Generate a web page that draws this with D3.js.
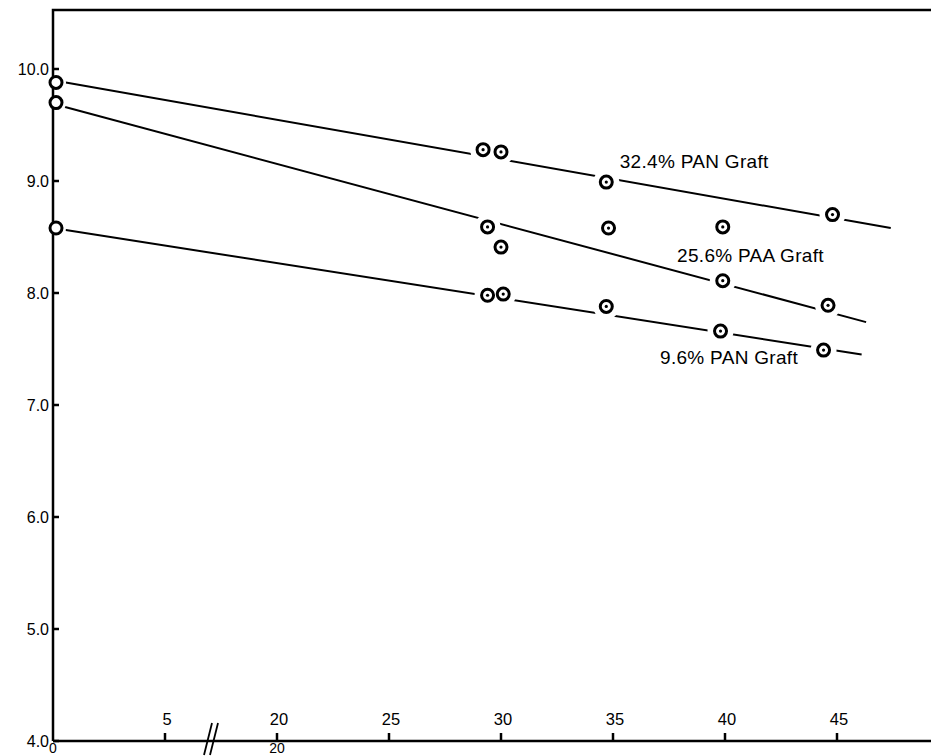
<!DOCTYPE html>
<html>
<head>
<meta charset="utf-8">
<script src="https://cdn.jsdelivr.net/npm/d3@7/dist/d3.min.js"></script>
<style>
  html, body { margin: 0; padding: 0; background: #fff; }
  svg { display: block; }
  text { font-family: "Liberation Sans", Arial, Helvetica, sans-serif; fill: #000; }
</style>
</head>
<body>
<script>
// Measured points: [time, value]
const panHigh = [[0, 9.88], [29.2, 9.28], [30.0, 9.26], [34.7, 8.99], [44.8, 8.70]];
const paaMid  = [[0, 9.70], [29.4, 8.59], [30.0, 8.41], [34.8, 8.58], [39.9, 8.59], [39.9, 8.11], [44.6, 7.89]];
const panLow  = [[0, 8.58], [29.4, 7.98], [30.1, 7.99], [34.7, 7.88], [39.8, 7.66], [44.4, 7.49]];

// Trend lines: start and end [time, value]
const panHighFit = [[0, 9.90], [47.4, 8.58]];
const paaMidFit  = [[0, 9.69], [46.3, 7.74]];
const panLowFit  = [[0, 8.58], [46.1, 7.45]];

const seriesNames = ["32.4% PAN Graft", "25.6% PAA Graft", "9.6% PAN Graft"];

// Axis ticks
const yTicks = [4.0, 5.0, 6.0, 7.0, 8.0, 9.0, 10.0];
const xTicksUpper = [5, 20, 25, 30, 35, 40, 45];
const xTicksLower = [0, 20];

const W = 931, H = 756;
const padL = 53, padT = 10, axisY = 741;
const unit = 22.4; // px per time unit on the right part of the broken axis

const svg = d3.select("body").append("svg").attr("width", W).attr("height", H);

// Broken time axis: 0–5 and 20–45 at equal spacing, the 5–20 gap compressed
const x = d3.scaleLinear()
  .domain([0, 5, 20, 45])
  .range([padL, padL + 5 * unit, padL + 10 * unit, padL + 35 * unit]);
const y = d3.scaleLinear().domain([4, 10]).range([axisY, axisY - 6 * 112]);

const line = d3.line().x(d => x(d[0])).y(d => y(d[1]));

// Trend lines
const fits = [panHighFit, paaMidFit, panLowFit];
svg.append("g").selectAll("path").data(fits).join("path")
  .attr("d", line)
  .attr("fill", "none")
  .attr("stroke", "#000")
  .attr("stroke-width", 2);

const allPts = [...panHigh, ...paaMid, ...panLow];

// White clearance around each marker breaks the trend line
svg.append("g").selectAll("circle").data(allPts).join("circle")
  .attr("cx", d => x(d[0])).attr("cy", d => y(d[1]))
  .attr("r", 13).attr("fill", "#fff");

// Frame: left axis, top edge, bottom axis
const frame = svg.append("g").attr("stroke", "#000").attr("fill", "none");
frame.append("path")
  .attr("d", `M${padL},${axisY} L${padL},${padT} L${W},${padT}`)
  .attr("stroke-width", 2.5);
frame.append("path")
  .attr("d", `M${padL},${axisY} L${W},${axisY}`)
  .attr("stroke-width", 2.5);

// Y ticks and labels
const yg = svg.append("g");
yg.selectAll("line").data(yTicks).join("line")
  .attr("x1", padL).attr("x2", padL + 6)
  .attr("y1", d => y(d)).attr("y2", d => y(d))
  .attr("stroke", "#000").attr("stroke-width", 2.5);
yg.selectAll("text").data(yTicks).join("text")
  .attr("x", padL - 4).attr("y", d => y(d))
  .attr("dy", "0.35em")
  .attr("text-anchor", "end")
  .attr("font-size", 16)
  .text(d => d.toFixed(1));

// X ticks (pointing up) with labels above the axis
const xg = svg.append("g");
xg.selectAll("line").data(xTicksUpper).join("line")
  .attr("x1", d => x(d)).attr("x2", d => x(d))
  .attr("y1", axisY).attr("y2", axisY - 8)
  .attr("stroke", "#000").attr("stroke-width", 2.5);
xg.selectAll("text.up").data(xTicksUpper).join("text")
  .attr("class", "up")
  .attr("x", d => x(d) + 2).attr("y", axisY - 16)
  .attr("text-anchor", "middle")
  .attr("font-size", 16.5)
  .text(d => d);
xg.selectAll("text.low").data(xTicksLower).join("text")
  .attr("class", "low")
  .attr("x", d => x(d)).attr("y", axisY + 12)
  .attr("text-anchor", "middle")
  .attr("font-size", 14)
  .text(d => d);

// Axis break mark
const bx = (x(5) + x(20)) / 2 - 10;
svg.append("g").attr("stroke", "#000").attr("stroke-width", 1.8)
  .selectAll("line").data([-3, 3]).join("line")
  .attr("x1", d => bx + d - 4).attr("y1", axisY + 14)
  .attr("x2", d => bx + d + 4).attr("y2", axisY - 18);

// Markers: thick ring with a centre dot
const mk = svg.append("g");
mk.selectAll("circle.ring").data(allPts).join("circle")
  .attr("class", "ring")
  .attr("cx", d => x(d[0]) + (d[0] === 0 ? 3 : 0)).attr("cy", d => y(d[1]))
  .attr("r", 6).attr("fill", "#fff")
  .attr("stroke", "#000").attr("stroke-width", 3);
mk.selectAll("circle.dot").data(allPts.filter(d => d[0] > 0)).join("circle")
  .attr("class", "dot")
  .attr("cx", d => x(d[0])).attr("cy", d => y(d[1]))
  .attr("r", 1.6).attr("fill", "#000");

// Series labels
const labelAt = [[35.3, 9.116], [37.86, 8.28], [37.1, 7.37]];
svg.append("g").selectAll("text").data(seriesNames).join("text")
  .attr("x", (d, i) => x(labelAt[i][0]))
  .attr("y", (d, i) => y(labelAt[i][1]))
  .attr("font-size", 19)
  .attr("letter-spacing", 0.3)
  .text(d => d);
</script>
</body>
</html>
